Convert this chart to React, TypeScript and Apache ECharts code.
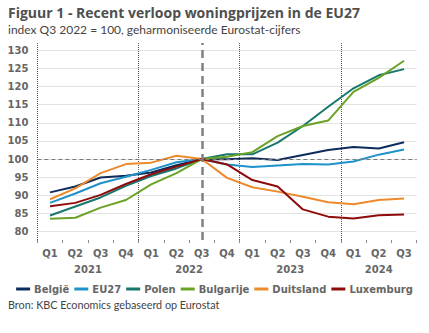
import React, { useEffect, useRef } from 'react';
import * as echarts from 'echarts';

const periods = [
  '2021 Q1', '2021 Q2', '2021 Q3', '2021 Q4',
  '2022 Q1', '2022 Q2', '2022 Q3', '2022 Q4',
  '2023 Q1', '2023 Q2', '2023 Q3', '2023 Q4',
  '2024 Q1', '2024 Q2', '2024 Q3',
];
const baseQuarter = '2022 Q3';
const quartersPerYear = 4;

const belgie = [90.8, 92.4, 94.9, 95.4, 96.3, 98.3, 100, 99.9, 100.2, 99.7, 101.1, 102.5, 103.3, 102.9, 104.6];
const eu27 = [87.9, 90.5, 93.3, 95.1, 97.0, 99.1, 100, 98.5, 97.8, 98.2, 98.6, 98.5, 99.3, 101.2, 102.6];
const polen = [84.4, 86.9, 89.4, 92.6, 95.3, 97.4, 100, 101.3, 101.3, 104.5, 109.1, 114.4, 119.5, 123.1, 124.8];
const bulgarije = [83.5, 83.8, 86.6, 88.7, 93.0, 96.1, 100, 100.6, 101.9, 106.3, 109.1, 110.6, 118.5, 122.4, 127.1];
const duitsland = [88.9, 91.9, 96.1, 98.6, 99.0, 100.9, 100, 94.8, 92.2, 91.0, 89.6, 88.1, 87.5, 88.7, 89.1];
const luxemburg = [87.0, 87.9, 90.1, 93.1, 95.8, 97.9, 100, 98.5, 94.2, 92.4, 86.1, 84.1, 83.6, 84.5, 84.7];

const seriesNames = ['België', 'EU27', 'Polen', 'Bulgarije', 'Duitsland', 'Luxemburg'];
const seriesData = [belgie, eu27, polen, bulgarije, duitsland, luxemburg];
const seriesColors = ['#0d2b5c', '#1f92c9', '#17776b', '#6aa226', '#ec8a2c', '#8e0b0b'];

const titleText = 'Figuur 1 - Recent verloop woningprijzen in de EU27';
const subtitleText = 'index Q3 2022 = 100, geharmoniseerde Eurostat-cijfers';
const sourceText = 'Bron: KBC Economics gebaseerd op Eurostat';

// Build a half-quarter axis so year labels sit centred under their quarters
function buildYearSlots(): string[] {
  const slots: string[] = new Array(periods.length * 2 + 1).fill('');
  const yearsSeen: { year: string; first: number; last: number }[] = [];
  periods.forEach((p, i) => {
    const y = p.split(' ')[0];
    const cur = yearsSeen.find((d) => d.year === y);
    if (cur) cur.last = i;
    else yearsSeen.push({ year: y, first: i, last: i });
  });
  yearsSeen.forEach((d) => {
    const center = d.first + d.last + 1; // in half-quarter units
    slots[center] = d.year;
  });
  return slots.map((s, i) => (s === '' ? ' '.repeat(i + 1) : s));
}
const yearSlots = buildYearSlots();

export default function App() {
  const ref = useRef<HTMLDivElement>(null);
  useEffect(() => {
    document.body.style.margin = '0';
    const chart = echarts.init(ref.current!, null, { renderer: 'svg' });
    const axisFont = 'DejaVu Sans';
    const option: any = {
      animation: false,
      backgroundColor: '#ffffff',
      textStyle: { fontFamily: axisFont },
      grid: { left: 37.4, right: 12.3, top: 43, bottom: 93, containLabel: false },
      xAxis: [
        {
          type: 'category',
          data: periods,
          boundaryGap: true,
          axisLine: { show: false },
          axisTick: { show: true, length: 3, interval: 0, lineStyle: { color: '#8c8c8c' } },
          axisLabel: {
            interval: 0,
            margin: 8,
            color: '#666666',
            fontWeight: 'bold',
            fontSize: 10,
            fontFamily: axisFont,
            formatter: (v: string) => v.split(' ')[1],
          },
          splitLine: { show: false },
        },
        {
          type: 'category',
          data: yearSlots,
          boundaryGap: false,
          position: 'bottom',
          axisLine: { show: false },
          axisTick: { show: false },
          splitLine: { show: false },
          axisLabel: {
            interval: 0,
            margin: 24,
            color: '#666666',
            fontWeight: 'bold',
            fontSize: 10,
            fontFamily: axisFont,
            formatter: (v: string) => v.trim(),
          },
        },
        {
          // helper axis: year boundaries as dotted split lines
          type: 'value',
          min: -0.5,
          max: periods.length - 0.5,
          interval: quartersPerYear,
          position: 'top',
          show: true,
          axisLine: { show: false },
          axisTick: { show: false },
          axisLabel: { show: false },
          splitLine: {
            show: true,
            showMinLine: true,
            showMaxLine: false,
            lineStyle: { color: '#555555', type: 'dotted', width: 1, opacity: 1 },
          },
        },
      ],
      yAxis: {
        type: 'value',
        min: 77.66,
        max: 132,
        minInterval: 5,
        maxInterval: 5,
        splitNumber: 11,
        axisLine: { show: false },
        axisTick: { show: false },
        axisLabel: {
          showMinLabel: false,
          showMaxLabel: false,
          margin: 9,
          color: '#666666',
          fontWeight: 'bold',
          fontSize: 10,
          fontFamily: axisFont,
          formatter: (v: number) => (Math.abs(v % 5) < 1e-6 ? String(v) : ''),
        },
        splitLine: {
          show: true,
          showMinLine: false,
          showMaxLine: false,
          lineStyle: { color: '#e3e3e3', width: 1 },
        },
      },
      legend: {
        bottom: 39,
        left: 'center',
        icon: 'rect',
        itemWidth: 14,
        itemHeight: 3,
        itemGap: 5,
        padding: 0,
        textStyle: { color: '#666666', fontWeight: 'bold', fontSize: 10, fontFamily: axisFont, padding: [0, 0, 0, -1] },
        data: seriesNames,
      },
      series: [
        ...seriesNames.map((name, i) => ({
          name,
          type: 'line',
          xAxisIndex: 0,
          data: seriesData[i],
          symbol: 'none',
          lineStyle: { width: 2, color: seriesColors[i] },
          itemStyle: { color: seriesColors[i] },
          ...(i === 0
            ? {
                markLine: {
                  silent: true,
                  symbol: ['none', 'none'],
                  label: { show: false },
                  data: [
                    { yAxis: 100, lineStyle: { color: '#7a7a7a', type: [4, 3], width: 1 } },
                    { xAxis: baseQuarter, lineStyle: { color: '#808080', type: [8, 5], width: 2.5 } },
                  ],
                },
              }
            : {}),
        })),
        {
          // empty helper series so the boundary axis is laid out
          type: 'line',
          xAxisIndex: 2,
          data: [],
          silent: true,
        },
      ],
      graphic: [
        {
          type: 'text',
          left: 8,
          top: 4,
          style: { text: titleText, font: 'bold 14px "Open Sans"', lineHeight: 17, fill: '#4f4f4f' },
        },
        {
          type: 'text',
          left: 8,
          top: 22,
          style: { text: subtitleText, font: '12px Lato', lineHeight: 14, fill: '#444444' },
        },
        {
          type: 'text',
          left: 8,
          top: 299,
          style: { text: sourceText, font: '10.8px Lato', fill: '#444444' },
        },
      ],
    };
    chart.setOption(option);
    return () => chart.dispose();
  }, []);
  return <div ref={ref} style={{ width: 429, height: 333 }} />;
}
